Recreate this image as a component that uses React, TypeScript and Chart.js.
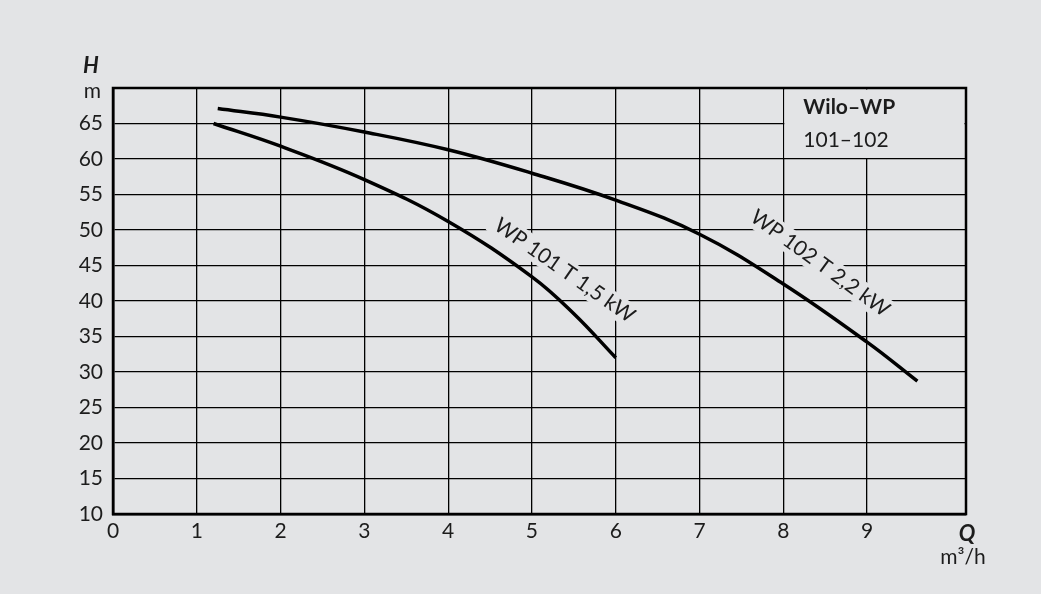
import React, { useEffect, useRef } from "react";
import { Chart, registerables } from "chart.js";

Chart.register(...registerables);

const wp101Q = [1.2, 2, 3, 4, 5, 5.5, 6];
const wp101H = [65.0, 61.8, 57.1, 51.2, 43.4, 38.2, 32.0];
const wp102Q = [1.25, 2, 3, 4, 5, 6, 7, 8, 9, 9.6];
const wp102H = [67.1, 65.9, 63.8, 61.3, 58.0, 54.2, 49.4, 42.4, 34.2, 28.7];

const xTicks = [0, 1, 2, 3, 4, 5, 6, 7, 8, 9];
const yTicks = [10, 15, 20, 25, 30, 35, 40, 45, 50, 55, 60, 65, 70];

const curveLabels = [
  { text: "WP 101 T 1,5 kW", q: 5.39, h: 44.3, angle: 35 },
  { text: "WP 102 T 2,2 kW", q: 8.44, h: 45.3, angle: 36 },
];
const titleLines = ["Wilo–WP", "101–102"];

const BG = "#e3e4e6";
const INK = "#1c1c1c";
const FONT = "Lato, 'Open Sans', sans-serif";

const overlay = {
  id: "overlay",
  beforeDatasetsDraw(chart: any) {
    const { ctx, chartArea, scales } = chart;
    const xs = scales.x;
    const ys = scales.y;
    ctx.save();
    const bx = xs.getPixelForValue(8) + 1;
    const by = chartArea.top + 1.5;
    const bw = chartArea.right - 1.5 - bx;
    const bh = ys.getPixelForValue(60) - 1 - by;
    ctx.fillStyle = BG;
    ctx.fillRect(bx, by, bw, bh);
    ctx.fillStyle = INK;
    ctx.textBaseline = "middle";
    ctx.textAlign = "left";
    ctx.font = `bold 21px ${FONT}`;
    ctx.fillText(titleLines[0], bx + 19, ys.getPixelForValue(67.3));
    ctx.font = `21px ${FONT}`;
    ctx.fillText(titleLines[1], bx + 19, ys.getPixelForValue(62.7));
    ctx.font = `21px ${FONT}`;
    for (const l of curveLabels) {
      const px = xs.getPixelForValue(l.q);
      const py = ys.getPixelForValue(l.h);
      ctx.save();
      ctx.translate(px, py);
      ctx.rotate((l.angle * Math.PI) / 180);
      const w = ctx.measureText(l.text).width;
      ctx.fillStyle = BG;
      ctx.fillRect(-w / 2 - 5, -12, w + 10, 24);
      ctx.fillStyle = INK;
      ctx.textAlign = "center";
      ctx.textBaseline = "middle";
      ctx.fillText(l.text, 0, 0);
      ctx.restore();
    }
    ctx.restore();
  },
  afterDraw(chart: any) {
    const { ctx, chartArea } = chart;
    ctx.save();
    ctx.fillStyle = INK;
    ctx.textAlign = "center";
    ctx.textBaseline = "middle";
    ctx.font = `bold italic 22px ${FONT}`;
    ctx.fillText("H", 91, 66);
    ctx.fillText("Q", chartArea.right + 1, 534);
    ctx.font = `21px ${FONT}`;
    ctx.textAlign = "right";
    ctx.fillText("m", chartArea.left - 12, 91);
    ctx.textAlign = "center";
    ctx.fillText("m³/h", chartArea.right - 3, 557);
    ctx.restore();
  },
};

export default function App() {
  const ref = useRef<HTMLCanvasElement>(null);
  useEffect(() => {
    if (!ref.current) return;
    const chart = new Chart(ref.current, {
      type: "line",
      data: {
        datasets: [
          {
            label: "WP 101 T 1,5 kW",
            data: wp101Q.map((q, i) => ({ x: q, y: wp101H[i] })),
            borderColor: "#000",
            borderWidth: 3.5,
            pointRadius: 0,
            tension: 0.4,
            fill: false,
          },
          {
            label: "WP 102 T 2,2 kW",
            data: wp102Q.map((q, i) => ({ x: q, y: wp102H[i] })),
            borderColor: "#000",
            borderWidth: 3.5,
            pointRadius: 0,
            tension: 0.4,
            fill: false,
          },
        ],
      },
      options: {
        animation: false,
        responsive: false,
        layout: { padding: { left: 0, right: 75, top: 88, bottom: 0 } },
        plugins: { legend: { display: false }, tooltip: { enabled: false } },
        scales: {
          x: {
            type: "linear",
            min: 0,
            max: 10.18,
            afterBuildTicks: (s: any) => {
              s.ticks = xTicks.map((v) => ({ value: v }));
            },
            afterFit: (s: any) => {
              s.height = 80;
            },
            grid: { color: "#000", lineWidth: 1.3, drawTicks: false },
            border: { color: "#000", width: 2.5 },
            ticks: {
              color: INK,
              font: { family: FONT, size: 21 },
              padding: 5,
              maxRotation: 0,
              autoSkip: false,
            },
          },
          y: {
            type: "linear",
            min: 10,
            max: 70,
            afterBuildTicks: (s: any) => {
              s.ticks = yTicks.map((v) => ({ value: v }));
            },
            afterFit: (s: any) => {
              s.width = 113;
            },
            grid: { color: "#000", lineWidth: 1.3, drawTicks: false },
            border: { color: "#000", width: 2.5 },
            ticks: {
              color: INK,
              font: { family: FONT, size: 21 },
              padding: 10,
              autoSkip: false,
              callback: (v: any) => (v === 70 ? "" : String(v)),
            },
          },
        },
      },
      plugins: [
        overlay,
        {
          id: "bg",
          beforeDraw(chart: any) {
            const c = chart.ctx;
            c.save();
            c.fillStyle = BG;
            c.fillRect(0, 0, chart.width, chart.height);
            c.restore();
          },
        },
        {
          id: "frame",
          afterDatasetsDraw(chart: any) {
            const { ctx, chartArea } = chart;
            ctx.save();
            ctx.strokeStyle = "#000";
            ctx.lineWidth = 2.5;
            ctx.strokeRect(chartArea.left, chartArea.top, chartArea.right - chartArea.left, chartArea.bottom - chartArea.top);
            ctx.restore();
          },
        },
      ],
    } as any);
    return () => chart.destroy();
  }, []);
  return (
    <div style={{ position: "fixed", left: 0, top: 0, width: 1041, height: 594, background: BG }}>
      <canvas ref={ref} width={1041} height={594} style={{ display: "block" }} />
    </div>
  );
}
